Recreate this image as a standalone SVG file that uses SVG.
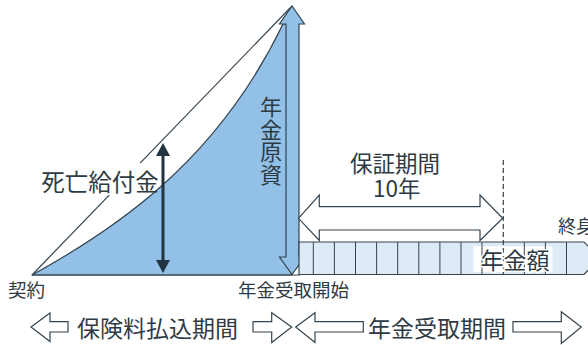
<svg xmlns="http://www.w3.org/2000/svg" width="588" height="345" viewBox="0 0 588 345">
<style>
.t{font-family:"Noto Sans CJK JP","Noto Sans",sans-serif;fill:#2f3b44;text-anchor:middle}
.ln{stroke:#34444f;stroke-width:1.2;fill:none}
.hollow{fill:#fff;stroke:#34444f;stroke-width:1.2;stroke-linejoin:miter}
.div{stroke:#34444f;stroke-width:1}
</style>
<rect width="588" height="345" fill="#fff"/>
<g id="connectors">
  <line class="ln" x1="32" y1="275" x2="292" y2="6" stroke-width="1"/>
  <rect x="36" y="163" width="124" height="32" fill="#fff"/>
</g>
<g id="premium-area">
  <path d="M32,275 C110,232 215,165 283,24 L292,24 L292,275 Z" fill="#92c0e6" stroke="#34444f" stroke-width="1.2" stroke-linejoin="round"/>
  <line class="ln" x1="32" y1="275" x2="300" y2="275" stroke-width="1.5"/>
</g>
<g id="fund-arrow">
  <polygon points="292,6 279.5,24 286,24 286,257 279.5,257 292,274.5 304.5,257 299,257 299,24 304.5,24" fill="#92c0e6" stroke="#34444f" stroke-width="1.2"/>
</g>
<g id="death-benefit-arrow">
  <line x1="163" y1="152" x2="163" y2="264" stroke="#233540" stroke-width="3"/>
  <polygon points="163,143 156,156 170,156" fill="#233540"/>
  <polygon points="163,273 156,260 170,260" fill="#233540"/>
</g>
<g id="annuity-bar">
  <polygon points="299,242 584,242 600,258 584,274.5 299,274.5" fill="#deeaf6" stroke="#34444f" stroke-width="1.2"/>
  <rect x="473.5" y="246.5" width="79" height="25.5" fill="#fff"/>
  <g class="div">
    <line x1="313.3" y1="242" x2="313.3" y2="274.5"/>
    <line x1="334.4" y1="242" x2="334.4" y2="274.5"/>
    <line x1="355.5" y1="242" x2="355.5" y2="274.5"/>
    <line x1="376.6" y1="242" x2="376.6" y2="274.5"/>
    <line x1="397.7" y1="242" x2="397.7" y2="274.5"/>
    <line x1="418.8" y1="242" x2="418.8" y2="274.5"/>
    <line x1="439.9" y1="242" x2="439.9" y2="274.5"/>
    <line x1="461" y1="242" x2="461" y2="274.5"/>
    <line x1="482" y1="242" x2="482" y2="274.5"/>
    <line x1="524.3" y1="242" x2="524.3" y2="274.5"/>
    <line x1="545.4" y1="242" x2="545.4" y2="274.5"/>
    <line x1="566.5" y1="242" x2="566.5" y2="274.5"/>
  </g>
  <line x1="503.3" y1="160" x2="503.3" y2="274.5" stroke="#34444f" stroke-width="1.2" stroke-dasharray="5,3"/>
  <text class="t" x="515" y="268.5" font-size="23" stroke="#fff" stroke-width="3" paint-order="stroke">年金額</text>
</g>
<g id="guarantee-arrow">
  <polygon class="hollow" points="298.5,218.3 319.3,195 319.3,206.7 480,206.7 480,195 502.7,218.3 480,240.5 480,230 319.3,230 319.3,240.5"/>
  <text class="t" font-size="22.5"><tspan x="395" y="172">保証期間</tspan><tspan x="396.7" y="197">10年</tspan></text>
</g>
<g id="labels">
  <text class="t" x="271" y="96" font-size="22" letter-spacing="0.5" writing-mode="vertical-rl" style="writing-mode:vertical-rl;text-anchor:start">年金原資</text>
  <text class="t" x="100" y="190.5" font-size="23.5">死亡給付金</text>
  <text class="t" x="26.5" y="297" font-size="18.5">契約</text>
  <text class="t" x="293.5" y="297" font-size="18.5">年金受取開始</text>
  <text class="t" x="558" y="232.5" font-size="18" style="text-anchor:start">終身</text>
</g>
<g id="period-arrows">
  <polygon class="hollow" points="31,327 50,313 50,321.7 68,321.7 68,332 50,332 50,341.5"/>
  <text class="t" x="157.5" y="336.5" font-size="23">保険料払込期間</text>
  <polygon class="hollow" points="253,321.7 271.7,321.7 271.7,312.7 291.7,327 271.7,342.5 271.7,332 253,332"/>
  <polygon class="hollow" points="295.7,327 315,312.7 315,321.7 363.3,321.7 363.3,332 315,332 315,342.5"/>
  <text class="t" x="437" y="336.5" font-size="23">年金受取期間</text>
  <polygon class="hollow" points="513,321.7 561.3,321.7 561.3,311.7 581.3,327 561.3,343.5 561.3,332 513,332"/>
</g>
</svg>
